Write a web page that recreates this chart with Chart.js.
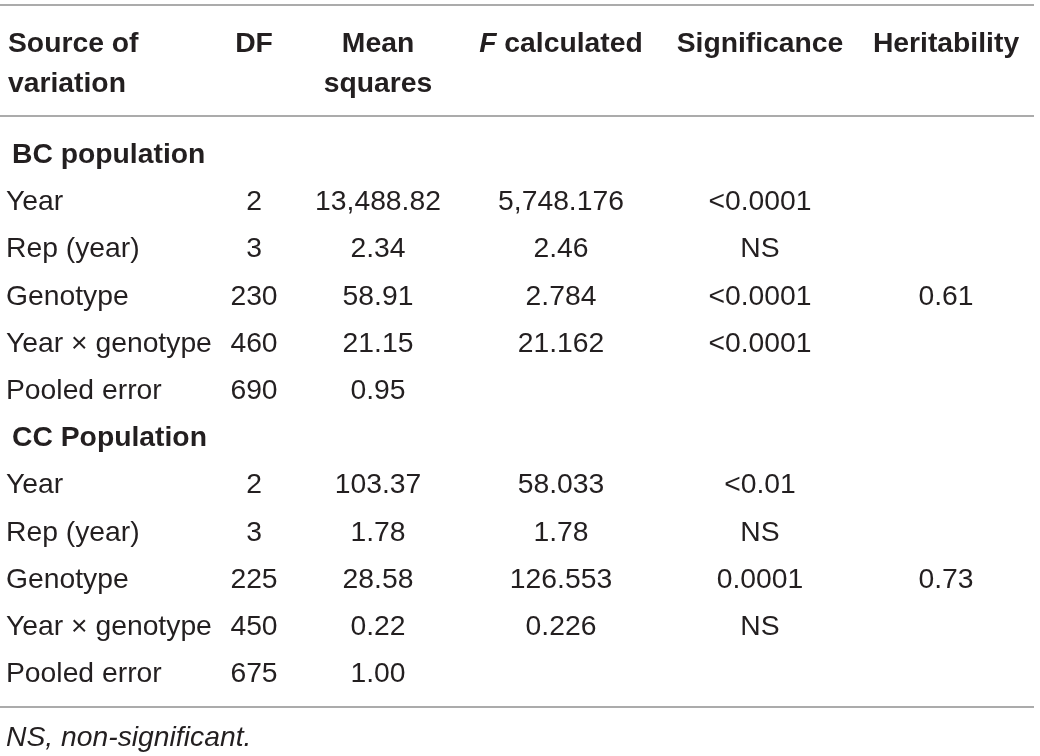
<!DOCTYPE html>
<html><head><meta charset="utf-8">
<script src="https://cdn.jsdelivr.net/npm/chart.js@4/dist/chart.umd.min.js"></script>
<style>html,body{margin:0;padding:0;background:#fff}#wrap{width:1040px;height:756px;position:relative}</style>
</head><body><div id="wrap"><canvas id="c"></canvas></div>
<script>
// ---- table data ----
const HEADERS = [['Source of','variation'], ['DF'], ['Mean','squares'], ['F calculated'], ['Significance'], ['Heritability']];
const SOURCES = ['BC population','Year','Rep (year)','Genotype','Year \u00d7 genotype','Pooled error',
                 'CC Population','Year','Rep (year)','Genotype','Year \u00d7 genotype','Pooled error'];
const SECTION_ROWS = [0, 6];
const DF = ['', '2', '3', '230', '460', '690', '', '2', '3', '225', '450', '675'];
const MEAN_SQUARES = ['', '13,488.82', '2.34', '58.91', '21.15', '0.95', '', '103.37', '1.78', '28.58', '0.22', '1.00'];
const F_CALCULATED = ['', '5,748.176', '2.46', '2.784', '21.162', '', '', '58.033', '1.78', '126.553', '0.226', ''];
const SIGNIFICANCE = ['', '<0.0001', 'NS', '<0.0001', '<0.0001', '', '', '<0.01', 'NS', '0.0001', 'NS', ''];
const HERITABILITY = ['', '', '', '0.61', '', '', '', '', '', '0.73', '', ''];
const FOOTNOTE = 'NS, non-significant.';

// ---- layout (not data) ----
const COLUMNS = [DF, MEAN_SQUARES, F_CALCULATED, SIGNIFICANCE, HERITABILITY];
const COL_CENTER = [254, 378, 561, 760, 946];
const LEFT_X = 6, SECTION_X = 12;
const FONT = '"Liberation Sans", Arial, Helvetica, sans-serif';
const FS = 28.3;
const TEXT = '#231f20';
const RULE = '#8f8f8f';

const tablePlugin = {
  id: 'tablePlugin',
  afterDraw(chart) {
    const ctx = chart.ctx, xs = chart.scales.x, ys = chart.scales.y;
    ctx.save();
    ctx.fillStyle = TEXT;
    ctx.textBaseline = 'alphabetic';
    // rules
    ctx.strokeStyle = RULE; ctx.lineWidth = 1.5;
    [5, 116, 707].forEach(y => { ctx.beginPath(); ctx.moveTo(xs.getPixelForValue(0), y); ctx.lineTo(xs.getPixelForValue(1034), y); ctx.stroke(); });
    // header
    const hb = [52, 92];
    ctx.font = `bold ${FS}px ${FONT}`;
    ctx.textAlign = 'left';
    HEADERS[0].forEach((t, k) => ctx.fillText(t, xs.getPixelForValue(LEFT_X + 2), hb[k]));
    HEADERS.slice(1).forEach((lines, c) => {
      const cx = xs.getPixelForValue(COL_CENTER[c]);
      lines.forEach((t, k) => {
        if (t.startsWith('F ')) {
          ctx.font = `italic bold ${FS}px ${FONT}`;
          const w1 = ctx.measureText('F').width;
          ctx.font = `bold ${FS}px ${FONT}`;
          const rest = t.slice(1);
          const w2 = ctx.measureText(rest).width;
          const x0 = cx - (w1 + w2) / 2;
          ctx.textAlign = 'left';
          ctx.font = `italic bold ${FS}px ${FONT}`;
          ctx.fillText('F', x0, hb[k]);
          ctx.font = `bold ${FS}px ${FONT}`;
          ctx.fillText(rest, x0 + w1, hb[k]);
        } else {
          ctx.font = `bold ${FS}px ${FONT}`;
          ctx.textAlign = 'center';
          ctx.fillText(t, cx, hb[k]);
        }
      });
    });
    // body
    SOURCES.forEach((s, i) => {
      const y = ys.getPixelForValue(i) + 10;
      const sec = SECTION_ROWS.includes(i);
      ctx.textAlign = 'left';
      ctx.font = `${sec ? 'bold ' : ''}${FS}px ${FONT}`;
      ctx.fillText(s, xs.getPixelForValue(sec ? SECTION_X : LEFT_X), y);
      ctx.font = `${FS}px ${FONT}`;
      ctx.textAlign = 'center';
      COLUMNS.forEach((col, c) => { if (col[i]) ctx.fillText(col[i], xs.getPixelForValue(COL_CENTER[c]), y); });
    });
    // footnote
    ctx.textAlign = 'left';
    ctx.font = `italic ${FS}px ${FONT}`;
    ctx.fillText(FOOTNOTE, xs.getPixelForValue(LEFT_X), 746);
    ctx.restore();
  }
};

new Chart(document.getElementById('c'), {
  type: 'scatter',
  data: { datasets: [] },
  options: {
    responsive: true, maintainAspectRatio: false, animation: false,
    layout: { padding: { top: 129.4, bottom: 60.2, left: 0, right: 0 } },
    plugins: { legend: { display: false }, tooltip: { enabled: false } },
    scales: {
      x: { type: 'linear', min: 0, max: 1040, display: false },
      y: { type: 'category', labels: SOURCES, offset: true, display: false }
    }
  },
  plugins: [tablePlugin]
});
</script></body></html>
